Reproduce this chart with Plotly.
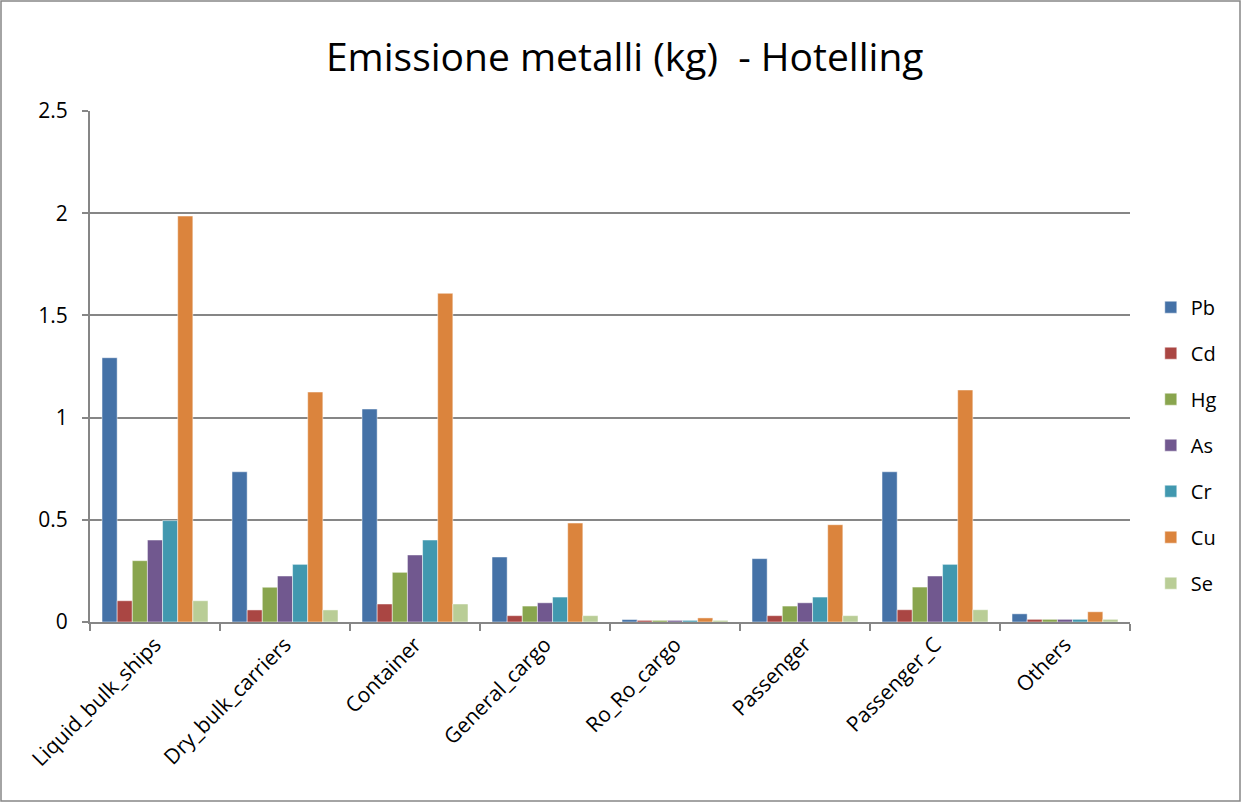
import plotly.graph_objects as go

categories = ["Liquid_bulk_ships", "Dry_bulk_carriers", "Container", "General_cargo",
              "Ro_Ro_cargo", "Passenger", "Passenger_C", "Others"]
Pb = [1.293, 0.735, 1.042, 0.318, 0.012, 0.310, 0.735, 0.040]
Cd = [0.104, 0.059, 0.088, 0.031, 0.008, 0.031, 0.060, 0.013]
Hg = [0.300, 0.170, 0.243, 0.078, 0.008, 0.078, 0.171, 0.013]
As = [0.401, 0.225, 0.328, 0.094, 0.008, 0.094, 0.225, 0.013]
Cr = [0.496, 0.282, 0.401, 0.122, 0.008, 0.122, 0.282, 0.013]
Cu = [1.986, 1.125, 1.608, 0.484, 0.020, 0.476, 1.135, 0.050]
Se = [0.104, 0.059, 0.088, 0.031, 0.008, 0.031, 0.060, 0.013]

series = [("Pb", Pb, "#4572A7"), ("Cd", Cd, "#AA4643"), ("Hg", Hg, "#89A54E"),
          ("As", As, "#71588F"), ("Cr", Cr, "#4198AF"), ("Cu", Cu, "#DB843D"),
          ("Se", Se, "#B9CD96")]

FONT = "Open Sans"

fig = go.Figure()
for name, vals, col in series:
    fig.add_trace(go.Bar(
        x=categories, y=vals, name=name, legendgroup=name,
        marker=dict(color=col, line=dict(color="rgba(255,255,255,0.6)", width=0.8)),
    ))

fig.update_layout(
    width=1242, height=803,
    margin=dict(l=90, r=112, t=111, b=181),
    paper_bgcolor="white", plot_bgcolor="white",
    barmode="group", bargap=0.185, bargroupgap=0,
    font=dict(family=FONT, color="black", size=18),
    title=dict(text="Emissione metalli (kg)  - Hotelling", x=0.503, xanchor="center",
               y=0.929, yanchor="middle", font=dict(family=FONT, size=39, color="black")),
    legend=dict(x=1.02, xanchor="left", y=0.346, yanchor="middle",
                font=dict(family=FONT, size=20), tracegroupgap=17,
                bgcolor="rgba(0,0,0,0)"),
    xaxis=dict(showline=True, linecolor="#868686", linewidth=2, ticks="outside",
               tickson="boundaries", tickcolor="#868686", ticklen=7, tickwidth=2,
               tickangle=-45, tickfont=dict(family=FONT, size=21), showgrid=False),
    yaxis=dict(range=[0, 2.5], dtick=0.5, showline=True, linecolor="#868686", linewidth=2,
               ticks="outside", tickcolor="#868686", ticklen=6, tickwidth=2,
               ticklabelstandoff=10,
               showgrid=True, gridcolor="#868686", gridwidth=1.5,
               zeroline=False, tickfont=dict(family=FONT, size=21),
               tickformat="~g"),
    shapes=[dict(type="rect", xref="paper", yref="paper",
                 x0=(1 - 90) / 1040, x1=(1240 - 90) / 1040,
                 y0=(622 - 801) / 511, y1=(622 - 1) / 511,
                 line=dict(color="#868686", width=1.5), fillcolor="rgba(0,0,0,0)")],
)

fig.write_html("out.html")
